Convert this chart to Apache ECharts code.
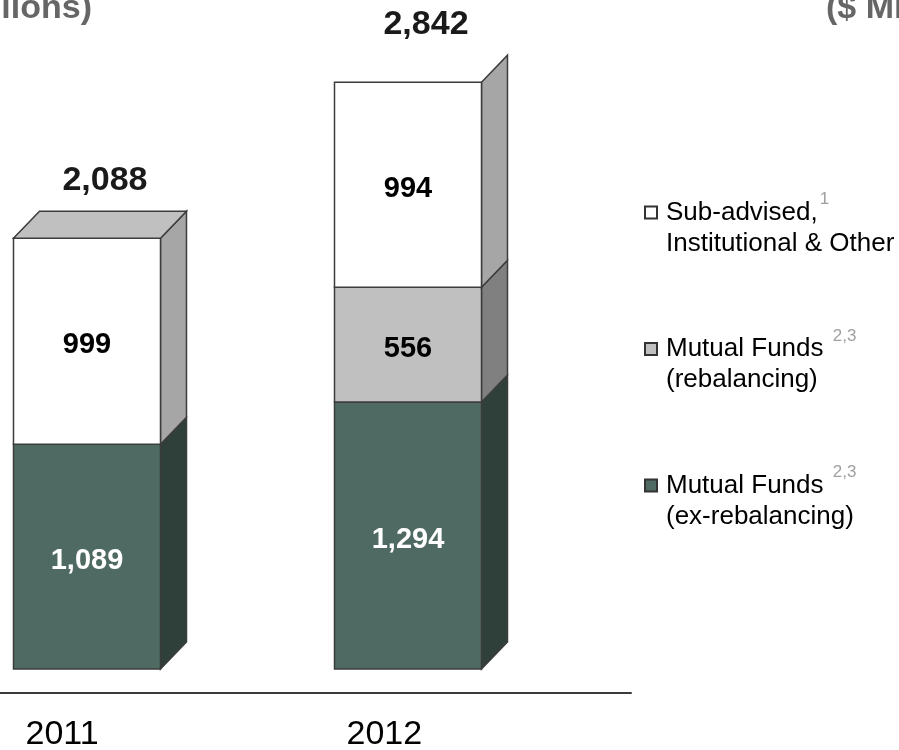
<!DOCTYPE html>
<html><head><meta charset="utf-8">
<script src="https://cdn.jsdelivr.net/npm/echarts@6/dist/echarts.min.js"></script>
<style>html,body{margin:0;padding:0;background:#fff}#c{width:899px;height:750px}</style>
</head><body><div id="c"></div>
<script>
// ---- data ----
const categories = ['2011', '2012'];
const mutualFundsEx = [1089, 1294];
const mutualFundsReb = [0, 556];
const subAdvised = [999, 994];
const totals = [2088, 2842];
const seriesNames = ['Sub-advised, Institutional & Other', 'Mutual Funds (rebalancing)', 'Mutual Funds (ex-rebalancing)'];
const titleText = '($ Millions)';

// ---- style ----
const FONT = '"Liberation Sans", Arial, Helvetica, sans-serif';
const BAR_W = 147, DX = 26, DY = 27;
const STROKE = '#3c3c3c';
const TOP_FACE = '#c0c0c0';

const chart = echarts.init(document.getElementById('c'), null, {renderer: 'canvas'});

const base1 = mutualFundsEx.slice();
const base2 = mutualFundsEx.map((v, i) => v + mutualFundsReb[i]);
function segData(vals, below) { return vals.map((v, i) => [i, below[i], below[i] + v, v]); }

function makeRender(front, side, labelColor) {
  return function (params, api) {
    const i = api.value(0), lo = api.value(1), hi = api.value(2), v = api.value(3);
    if (!v) return null;
    const pLo = api.coord([i, lo]), pHi = api.coord([i, hi]);
    const x0 = pLo[0] - BAR_W / 2, x1 = pLo[0] + BAR_W / 2;
    const yB = pLo[1], yT = pHi[1];
    const children = [
      {type: 'polygon', shape: {points: [[x1, yB], [x1 + DX, yB - DY], [x1 + DX, yT - DY], [x1, yT]]},
        style: {fill: side, stroke: STROKE, lineWidth: 1.5}},
      {type: 'rect', shape: {x: x0, y: yT, width: BAR_W, height: yB - yT},
        style: {fill: front, stroke: STROKE, lineWidth: 1.5}}
    ];
    if (hi === totals[i]) {
      children.push({type: 'polygon', shape: {points: [[x0, yT], [x1, yT], [x1 + DX, yT - DY], [x0 + DX, yT - DY]]},
        style: {fill: TOP_FACE, stroke: STROKE, lineWidth: 1.5}});
    }
    children.push({type: 'text', style: {text: v.toLocaleString('en-US'), x: (x0 + x1) / 2, y: (yT + yB) / 2 + 4,
      align: 'center', verticalAlign: 'middle', fill: labelColor, font: 'bold 29px ' + FONT}});
    return {type: 'group', children: children};
  };
}

const legendText = {};
legendText[seriesNames[0]] = '{t|Sub-advised,}{s|1}\n{t|Institutional & Other}';
legendText[seriesNames[1]] = '{t|Mutual Funds }{s|2,3}\n{t|(rebalancing)}';
legendText[seriesNames[2]] = '{t|Mutual Funds }{s|2,3}\n{t|(ex-rebalancing)}';

const option = {
  animation: false,
  backgroundColor: '#ffffff',
  title: [
    {text: titleText, right: 807, top: -8, padding: 0,
      textStyle: {fontFamily: FONT, fontSize: 34, fontWeight: 'bold', color: '#666666'}},
    {text: titleText, left: 826, top: -8, padding: 0,
      textStyle: {fontFamily: FONT, fontSize: 34, fontWeight: 'bold', color: '#666666'}}
  ],
  grid: {left: 0, right: 268, top: 50, bottom: 57},
  xAxis: {
    type: 'value', min: -0.271, max: 1.6947,
    axisLine: {show: true, onZero: false, lineStyle: {color: '#3a3a3a', width: 2}},
    axisTick: {show: false}, axisLabel: {show: false}, splitLine: {show: false}
  },
  yAxis: {type: 'value', min: -116, max: 3000, show: false, splitLine: {show: false}},
  legend: {
    orient: 'vertical', left: 644, top: 191, padding: 0, itemGap: 71,
    itemWidth: 12, itemHeight: 12, selectedMode: false, icon: 'rect',
    data: seriesNames,
    formatter: function (name) { return legendText[name]; },
    textStyle: {
      padding: [31, 0, 0, 4], fontFamily: FONT, fontSize: 26, color: '#000',
      rich: {
        t: {fontFamily: FONT, fontSize: 26, lineHeight: 31, color: '#000'},
        s: {fontFamily: FONT, fontSize: 17, lineHeight: 4, color: '#a0a0a0', verticalAlign: 'top', padding: [-6, 0, 0, 2]}
      }
    }
  },
  series: [
    {type: 'custom', name: seriesNames[2], renderItem: makeRender('#4f6a62', '#2f403b', '#ffffff'),
      itemStyle: {color: '#4f6a62', borderColor: '#333', borderWidth: 1},
      data: segData(mutualFundsEx, [0, 0]), encode: {x: 0, y: 2}},
    {type: 'custom', name: seriesNames[1], renderItem: makeRender('#c0c0c0', '#808080', '#000000'),
      itemStyle: {color: '#c0c0c0', borderColor: '#333', borderWidth: 1},
      data: segData(mutualFundsReb, base1), encode: {x: 0, y: 2}},
    {type: 'custom', name: seriesNames[0], renderItem: makeRender('#ffffff', '#a6a6a6', '#000000'),
      itemStyle: {color: '#ffffff', borderColor: '#333', borderWidth: 1},
      data: segData(subAdvised, base2), encode: {x: 0, y: 2}},
    {type: 'custom', name: 'Total', silent: true,
      renderItem: function (params, api) {
        const p = api.coord([api.value(0), api.value(1)]);
        return {type: 'text', style: {text: api.value(1).toLocaleString('en-US'), x: p[0] + 18, y: p[1] - DY - 31,
          align: 'center', verticalAlign: 'middle', fill: '#1a1a1a', font: 'bold 34px ' + FONT}};
      },
      data: totals.map((t, i) => [i, t]), encode: {x: 0, y: 1}},
    {type: 'custom', name: 'Year', silent: true,
      renderItem: function (params, api) {
        const i = api.value(0);
        const p = api.coord([i, -116]);
        return {type: 'text', style: {text: categories[i], x: p[0] - BAR_W / 2 + 12, y: p[1] + 42,
          align: 'left', verticalAlign: 'middle', fill: '#000', font: '34px ' + FONT}};
      },
      data: categories.map((c, i) => [i, 0]), encode: {x: 0, y: 1}}
  ]
};
chart.setOption(option);
</script></body></html>
